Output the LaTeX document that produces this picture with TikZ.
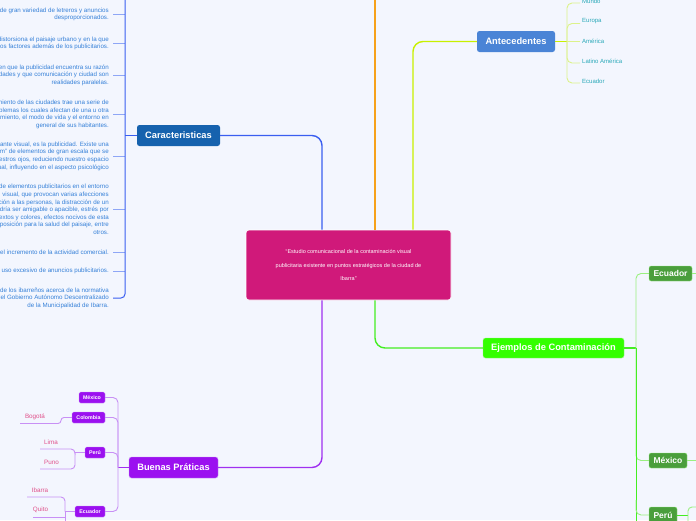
\documentclass[tikz,border=0pt]{standalone}
\usepackage{fontspec}
\setmainfont{Liberation Sans}
\definecolor{bg}{HTML}{F3F6FE}
\definecolor{chartext}{HTML}{3580D8}
\definecolor{charnode}{HTML}{1662AE}
\definecolor{chartrunk}{HTML}{3A5EF0}
\definecolor{charstub}{HTML}{8EA6F6}
\definecolor{orangeln}{HTML}{F6A11A}
\definecolor{centerc}{HTML}{D0197A}
\definecolor{yln}{HTML}{C8F000}
\definecolor{ystubc}{HTML}{DCF28A}
\definecolor{antnode}{HTML}{4A84D6}
\definecolor{antlab}{HTML}{28A8B8}
\definecolor{gmain}{HTML}{33FF00}
\definecolor{gln}{HTML}{44EE22}
\definecolor{gstubc}{HTML}{9AF080}
\definecolor{gdark}{HTML}{4A9E3C}
\definecolor{pmain}{HTML}{9B10F0}
\definecolor{pln}{HTML}{A030F0}
\definecolor{pstubc}{HTML}{C890F5}
\definecolor{plab}{HTML}{E0508A}
\begin{document}
\begin{tikzpicture}[x=1pt,y=-1pt,
  item/.style={anchor=east, align=right, text=chartext, inner sep=0pt,
    font=\fontsize{6.2}{7.6}\selectfont},
  bignode/.style={rounded corners=2.5pt, text=white, inner sep=0pt,
    font=\fontsize{9.3}{10}\selectfont\bfseries},
  smallp/.style={rounded corners=1.5pt, fill=pmain, draw=pstubc, line width=0.3pt,
    text=white, inner sep=0pt, font=\fontsize{5.3}{6}\selectfont\bfseries},
  smallg/.style={rounded corners=2pt, fill=gdark, draw=gstubc, line width=0.3pt,
    text=white, inner sep=0pt, font=\fontsize{8.5}{9}\selectfont\bfseries},
  plabel/.style={text=plab, inner sep=0pt, font=\fontsize{6.3}{7}\selectfont},
  alabel/.style={anchor=west, text=antlab, inner sep=0pt, font=\fontsize{6}{7}\selectfont},
  charstubln/.style={draw=charstub, line width=0.9pt},
  chartrunkln/.style={draw=chartrunk, line width=1pt},
  ystub/.style={draw=ystubc, line width=0.9pt, rounded corners=5pt},
  gstub/.style={draw=gstubc, line width=0.9pt, rounded corners=5pt},
  pstub/.style={draw=pstubc, line width=0.9pt, rounded corners=4pt},
]
\fill[bg] (0,0) rectangle (696,520);
\useasboundingbox (0,0) rectangle (696,520);
\clip (0,0) rectangle (696,520);

% ---------- centre ----------
\node[rounded corners=3pt, fill=centerc, draw=white, line width=0.6pt,
  minimum width=205pt, minimum height=70pt, inner sep=0pt, text=white,
  align=center, font=\fontsize{5.5}{13.5}\selectfont] (c) at (348.5,265)
  {“Estudio comunicacional de la contaminación visual\\
   publicitaria existente en puntos estratégicos de la ciudad de\\
   Ibarra”};

% ---------- Caracteristicas ----------
\node[bignode, fill=charnode, minimum width=83pt, minimum height=21pt] (car) at (178.5,135.5) {Caracteristicas};
\coordinate (trunkC) at (125,0);

\node[item] (i1) at (109,14.5) {de gran variedad de letreros y anuncios\\desproporcionados.};
\node[item] (i2) at (109,43.5) {distorsiona el paisaje urbano y en la que\\otros factores además de los publicitarios.};
\node[item] (i3) at (109,75) {en que la publicidad encuentra su razón\\ciudades y que comunicación y ciudad son\\realidades paralelas.};
\node[item] (i4) at (109,114.5) {crecimiento de las ciudades trae una serie de\\problemas los cuales afectan de una u otra\\funcionamiento, el modo de vida y el entorno en\\general de sus habitantes.};
\node[item] (i5) at (109,156) {contaminante visual, es la publicidad. Existe una\\“boom” de elementos de gran escala que se\\nuestros ojos, reduciendo nuestro espacio\\visual, influyendo en el aspecto psicológico};
\node[item] (i6) at (109,209.5) {de elementos publicitarios en el entorno\\visual, que provocan varias afecciones\\atención a las personas, la distracción de un\\podría ser amigable o apacible, estrés por\\textos y colores, efectos nocivos de esta\\exposición para la salud del paisaje, entre\\otros.};
\node[item] (i7) at (109,252) {el incremento de la actividad comercial.};
\node[item] (i8) at (109,271) {uso excesivo de anuncios publicitarios.};
\node[item] (i9) at (109,298) {de los ibarreños acerca de la normativa\\del Gobierno Autónomo Descentralizado\\de la Municipalidad de Ibarra.};

\foreach \i in {i1,i2,i3,i4,i5,i6,i7,i8}
  \draw[charstubln] ([xshift=4pt]\i.east) -- (\i.east -| trunkC);
\draw[chartrunkln, rounded corners=4pt] (125,-2) -- (i9.east -| trunkC) -- ([xshift=4pt]i9.east);
\draw[draw=chartrunk, line width=1.6pt] (car.west) -- (car.west -| trunkC);
\draw[draw=chartrunk, line width=1.4pt, rounded corners=10pt] (car.east) -| ([xshift=-26.5pt]c.north);

% ---------- orange ----------
\coordinate (otop) at (375,-2);
\draw[draw=orangeln, line width=1.8pt] ([xshift=26.5pt]c.north) -- (otop);

% ---------- Antecedentes ----------
\node[bignode, fill=antnode, minimum width=78pt, minimum height=21pt] (ant) at (516,41.5) {Antecedentes};
\draw[draw=yln, line width=1.4pt, rounded corners=10pt] ([xshift=64.5pt]c.north) |- (ant.west);
\coordinate (antJ) at (567,41.5);
\draw[draw=yln, line width=1.2pt] (ant.east) -- (antJ);
\node[alabel] (a1) at (582,1) {Mundo};
\node[alabel] (a2) at (582,21.5) {Europa};
\node[alabel] (a3) at (582,41.5) {América};
\node[alabel] (a4) at (582,61) {Latino América};
\node[alabel] (a5) at (582,81) {Ecuador};
\foreach \a in {a1,a2,a4,a5}
  \draw[ystub] (antJ) |- ([xshift=-2pt,yshift=-2pt]\a.west);
\draw[ystub] (antJ) -- ([xshift=-2pt]a3.west);

% ---------- Ejemplos de Contaminacion ----------
\node[bignode, fill=gmain, draw=gstubc, line width=0.4pt, minimum width=141pt, minimum height=20pt] (ej) at (553.5,348) {Ejemplos de Contaminación};
\draw[draw=gln, line width=1.4pt, rounded corners=10pt] ([xshift=26.5pt]c.south) |- (ej.west);
\coordinate (ejJ) at (636,348);
\draw[draw=gln, line width=1.2pt] (ej.east) -- (ejJ);
\node[smallg, minimum width=43pt, minimum height=15pt] (ge) at (670.5,273.5) {Ecuador};
\node[smallg, minimum width=38pt, minimum height=15pt] (gm) at (668,460.5) {México};
\node[smallg, minimum width=28pt, minimum height=16pt] (gp) at (663,515) {Perú};
\draw[gstub] (ejJ) |- (ge.west);
\draw[gstub] (ejJ) |- (gm.west);
\draw[draw=gln, line width=1pt] (ejJ) -- (636,525);
\draw[gstub] (636,500) |- (gp.west);
\coordinate (geR) at (700,273.5);
\coordinate (gmR) at (700,460.5);
\draw[gstub] (ge.east) -- (geR);
\draw[gstub] (gm.east) -- (gmR);
\coordinate (gpJ) at (688,515);
\draw[draw=gln, line width=1pt] (gp.east) -- (gpJ);
\draw[gstub, rounded corners=4pt] (688,525) -- (688,507) -- (700,507);

% ---------- Buenas Practicas ----------
\node[bignode, fill=pmain, draw=pstubc, line width=0.4pt, minimum width=89pt, minimum height=21pt] (bp) at (173.5,467.5) {Buenas Práticas};
\draw[draw=pln, line width=1.4pt, rounded corners=10pt] ([xshift=-26.5pt]c.south) |- (bp.east);
\coordinate (bpJ) at (118,467.5);
\draw[draw=pln, line width=1.2pt] (bp.west) -- (bpJ);
\node[smallp, minimum width=26pt, minimum height=11pt] (pm) at (92,397.5) {México};
\node[smallp, minimum width=33pt, minimum height=11pt] (pc) at (88.5,417.5) {Colombia};
\node[smallp, minimum width=20pt, minimum height=11pt] (pp) at (95,452.5) {Perú};
\node[smallp, minimum width=30pt, minimum height=11pt] (pe) at (90,511.5) {Ecuador};
\foreach \p in {pm,pc,pp,pe}
  \draw[pstub, rounded corners=5pt] (bpJ) |- (\p.east);

\node[plabel] (bog) at (35,416.5) {Bogotá};
\coordinate (bogL) at (20,423.5);
\draw[pstub, rounded corners=3pt] (pc.west) -- (61,417.5) -- (61,423.5) -- (bogL);

\node[plabel] (lima) at (51,442) {Lima};
\node[plabel] (puno) at (51.5,462) {Puno};
\coordinate (limaL) at (40,449);
\coordinate (punoL) at (40,469);
\coordinate (ppJ) at (75,452.5);
\draw[pstub] (pp.west) -- (ppJ);
\draw[pstub] (ppJ) |- (limaL);
\draw[pstub] (ppJ) |- (punoL);

\node[plabel] (iba) at (40,490) {Ibarra};
\node[plabel] (qui) at (40.5,510) {Quito};
\coordinate (ibaL) at (27,497);
\coordinate (quiL) at (33,517);
\coordinate (peJ) at (65,511.5);
\draw[pstub] (pe.west) -- (peJ);
\draw[pstub] (peJ) |- (ibaL);
\draw[pstub] (peJ) -- (65,525);
\draw[pstub] (quiL) -- (65,517);
\end{tikzpicture}
\end{document}
